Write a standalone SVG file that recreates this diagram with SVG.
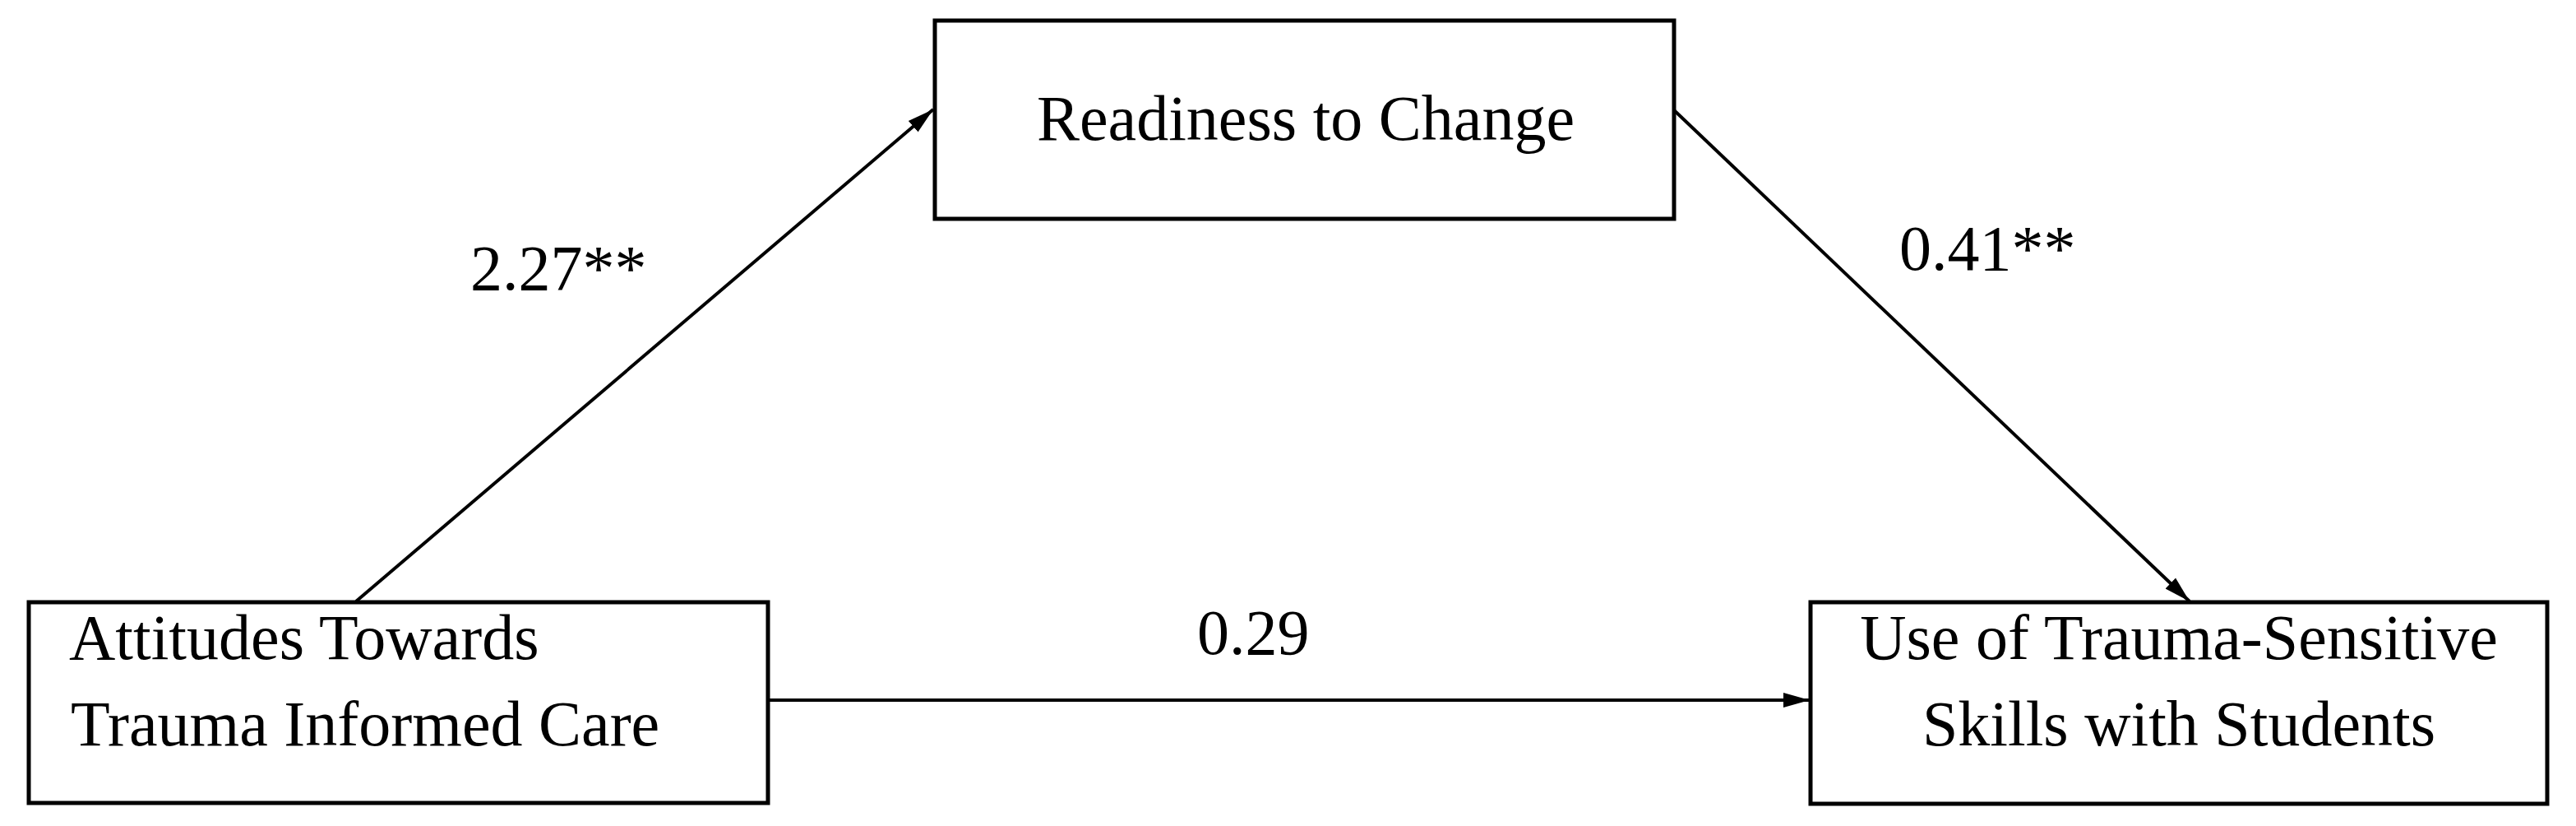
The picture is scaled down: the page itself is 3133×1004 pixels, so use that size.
<svg xmlns="http://www.w3.org/2000/svg" width="3133" height="1004" viewBox="0 0 3133 1004">
<style>
.box{fill:#fff;stroke:#000;stroke-width:5}
.t{font-family:"Liberation Serif","Times New Roman",serif;font-size:78px;fill:#000}
.c{text-anchor:middle}
.edge{stroke:#000;stroke-width:4;fill:none;marker-end:url(#ah)}
</style>
<defs>
<marker id="ah" markerUnits="userSpaceOnUse" markerWidth="34" markerHeight="22" viewBox="0 0 34 22" refX="32" refY="11" orient="auto">
<path d="M0,2 L32,11 L0,20 Z" fill="#000"/>
</marker>
</defs>
<rect width="3133" height="1004" fill="#fff"/>
<g id="connectors">
<line class="edge" x1="433" y1="731" x2="1135" y2="133"/>
<line class="edge" x1="2035" y1="133" x2="2663" y2="731"/>
<line class="edge" x1="933" y1="851" x2="2201" y2="851"/>
<text class="t" x="572" y="352">2.27**</text>
<text class="t" x="2310" y="328">0.41**</text>
<text class="t" x="1456" y="795">0.29</text>
</g>
<g id="readiness">
<rect class="box" x="1137" y="25" width="899" height="241"/>
<text class="t c" x="1588" y="170">Readiness to Change</text>
</g>
<g id="attitudes">
<rect class="box" x="35" y="732" width="899" height="244"/>
<text class="t" x="84" y="801">Attitudes Towards</text>
<text class="t" x="86" y="906">Trauma Informed Care</text>
</g>
<g id="use">
<rect class="box" x="2202" y="732" width="896" height="245"/>
<text class="t c" x="2650" y="801">Use of Trauma-Sensitive</text>
<text class="t c" x="2650" y="906">Skills with Students</text>
</g>
</svg>
